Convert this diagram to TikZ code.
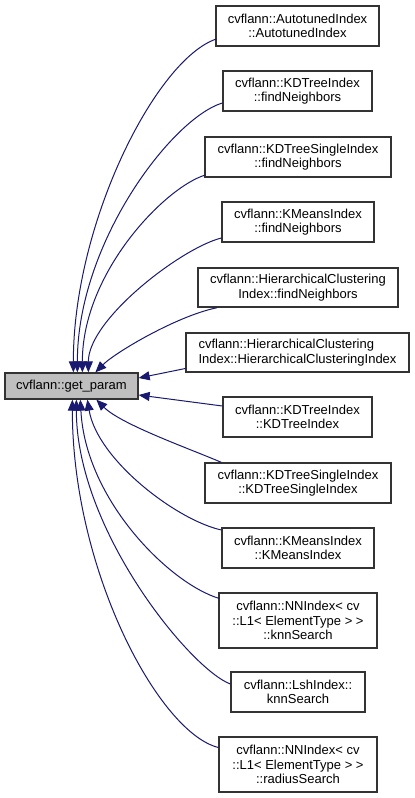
\documentclass[tikz,border=0pt]{standalone}
\usepackage{fontspec}
\setmainfont{Liberation Sans}
\usetikzlibrary{arrows.meta, calc}
\definecolor{edgeblue}{HTML}{191970}
\definecolor{nodegray}{HTML}{BFBFBF}

\begin{document}
\begin{tikzpicture}[
  x=1pt, y=-1pt,
  box/.style={
    draw=black!80, line width=1.3pt, fill=white, align=center, inner sep=2pt,
    minimum height=40pt, font=\fontsize{13}{14.5}\selectfont
  },
  arrow/.style={-{Triangle[length=11pt, width=9pt]}, edgeblue, line width=1pt}
]
  \useasboundingbox (0,0) rectangle (415,798);

  % Root node
  \node[box, fill=nodegray, minimum width=133pt, minimum height=26pt] (getparam)
    at (71.5,386) {cvflann::get\_param};

  % Callers, top to bottom
  \node[box, minimum width=163pt] (autotuned) at (297.5,26)
    {cvflann::AutotunedIndex\\::AutotunedIndex};
  \node[box, minimum width=149pt] (kdfind) at (297.5,91)
    {cvflann::KDTreeIndex\\::findNeighbors};
  \node[box, minimum width=186pt] (kdsfind) at (298,157)
    {cvflann::KDTreeSingleIndex\\::findNeighbors};
  \node[box, minimum width=152pt] (kmfind) at (298,222)
    {cvflann::KMeansIndex\\::findNeighbors};
  \node[box, minimum width=200pt, minimum height=39pt] (hcfind) at (298,287.5)
    {cvflann::HierarchicalClustering\\Index::findNeighbors};
  \node[box, align=left, minimum width=223pt, minimum height=39pt] (hcctor) at (297.5,352.5)
    {cvflann::HierarchicalClustering\\Index::HierarchicalClusteringIndex};
  \node[box, minimum width=149pt] (kdctor) at (297.5,417)
    {cvflann::KDTreeIndex\\::KDTreeIndex};
  \node[box, minimum width=186pt] (kdsctor) at (298,483)
    {cvflann::KDTreeSingleIndex\\::KDTreeSingleIndex};
  \node[box, minimum width=152pt] (kmctor) at (298,548)
    {cvflann::KMeansIndex\\::KMeansIndex};
  \node[box, minimum width=158pt, minimum height=55pt] (nnknn) at (298,620.5)
    {cvflann::NNIndex< cv\\::L1< ElementType > >\\::knnSearch};
  \node[box, minimum width=134pt] (lshknn) at (298,692)
    {cvflann::LshIndex::\\knnSearch};
  \node[box, minimum width=158pt, minimum height=55pt] (nnradius) at (298,764.5)
    {cvflann::NNIndex< cv\\::L1< ElementType > >\\::radiusSearch};

  % Edges into the top of get_param
  \draw[arrow] ($(autotuned.west)+(1,13)$) .. controls +(-60,20) and +(0,-150) .. ($(getparam.north west)+(69,0)$);
  \draw[arrow] ($(kdfind.west)+(0,12)$) .. controls +(-50,15) and +(0,-130) .. ($(getparam.north west)+(73,0)$);
  \draw[arrow] ($(kdsfind.west)+(1,18)$) .. controls +(-40,12) and +(0,-100) .. ($(getparam.north west)+(78,0)$);
  \draw[arrow] ($(kmfind.west)+(0,16)$) .. controls +(-40,10) and +(0,-53) .. ($(getparam.north west)+(84,0)$);
  \draw[arrow] ($(hcfind.south west)+(20,0)$) .. controls +(-40,8) and +(20,-20) .. ($(getparam.north west)+(91,0)$);

  % Edges into the right side
  \draw[arrow] ($(hcctor.west)+(0,16)$) -- ($(getparam.east)+(0,-8)$);
  \draw[arrow] ($(kdctor.west)+(0,-11)$) -- ($(getparam.east)+(0,9)$);

  % Edges into the bottom
  \draw[arrow] ($(kdsctor.north west)+(17,0)$) .. controls +(-30,-13) and +(25,25) .. ($(getparam.south west)+(92,0)$);
  \draw[arrow] ($(kmctor.west)+(0,-18)$) .. controls +(-45,-10) and +(10,60) .. ($(getparam.south west)+(83,0)$);
  \draw[arrow] ($(nnknn.west)+(1,-22)$) .. controls +(-50,-15) and +(5,100) .. ($(getparam.south west)+(76,0)$);
  \draw[arrow] ($(lshknn.west)+(0,-8)$) .. controls +(-40,-15) and +(0,130) .. ($(getparam.south west)+(72,0)$);
  \draw[arrow] ($(nnradius.west)+(0,-17)$) .. controls +(-60,-15) and +(0,170) .. ($(getparam.south west)+(68,0)$);
\end{tikzpicture}
\end{document}
